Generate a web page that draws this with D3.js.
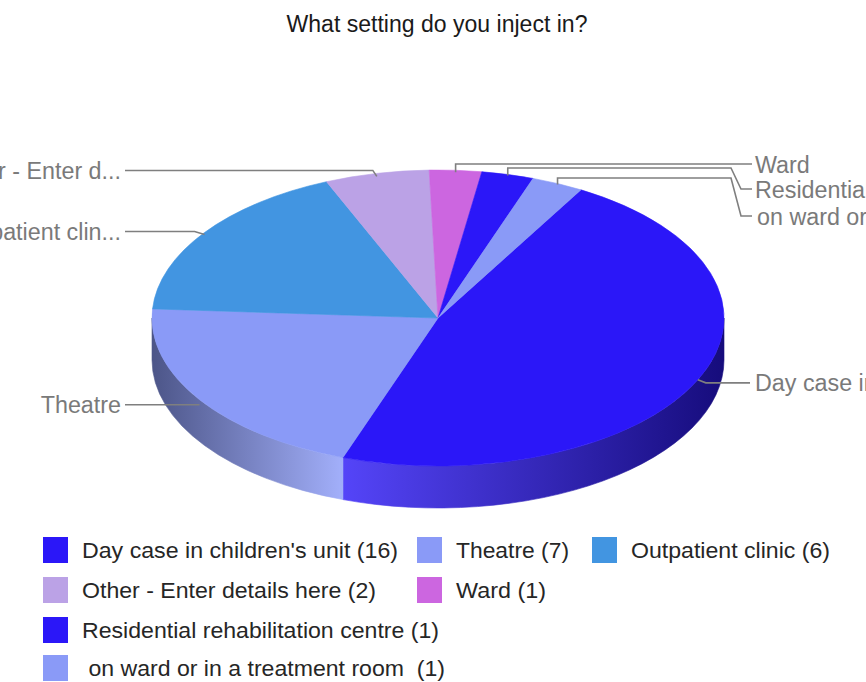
<!DOCTYPE html>
<html>
<head>
<meta charset="utf-8">
<script src="https://cdn.jsdelivr.net/npm/d3@7"></script>
<style>
  html, body { margin: 0; padding: 0; background: #fff; overflow: hidden; }
  svg { display: block; font-family: "Liberation Sans", Arial, sans-serif; }
  text { white-space: pre; }
</style>
</head>
<body>
<svg id="chart" width="866" height="682"></svg>
<script>
// Survey answers: "What setting do you inject in?"
const categories = [
  "Day case in children's unit",
  "Theatre",
  "Outpatient clinic",
  "Other - Enter details here",
  "Ward",
  "Residential rehabilitation centre",
  " on ward or in a treatment room "
];
const values = [16, 7, 6, 2, 1, 1, 1];
// Text shown beside each slice (long names are shortened)
const sliceLabels = [
  "Day case in children's unit",
  "Theatre",
  "Outpatient clin...",
  "Other - Enter d...",
  "Ward",
  "Residential rehabilitation centre",
  "on ward or in a treatment room"
];
const sliceColors = ["#2b17f8", "#8a9af7", "#4295e1", "#bba2e6", "#cc66e0", "#2b17f8", "#8a9af7"];
const title = "What setting do you inject in?";

const svg = d3.select("#chart");

// 3D pie geometry
const cx = 438, cy = 318, rx = 286, ry = 148, depth = 42;
const startDeg = 30;

const pie = d3.pie().sort(null).value(d => d)
  .startAngle(startDeg * Math.PI / 180)
  .endAngle(startDeg * Math.PI / 180 + 2 * Math.PI);
const arcs = pie(values).map((a, i) => ({ ...a, i }));

const pt = (a, dy = 0) => [cx + rx * Math.sin(a), cy - ry * Math.cos(a) + dy];

// side shading gradients
const defs = svg.append("defs");
const lightT = (340 - (cx - rx)) / (2 * rx);
sliceColors.forEach((c, i) => {
  const base = d3.rgb(c);
  const scale = k => d3.rgb(base.r * k, base.g * k, base.b * k).formatHex();
  const g = defs.append("linearGradient")
    .attr("id", "side" + i)
    .attr("gradientUnits", "userSpaceOnUse")
    .attr("x1", cx - rx).attr("x2", cx + rx).attr("y1", 0).attr("y2", 0);
  g.append("stop").attr("offset", 0).attr("stop-color", scale(0.55));
  g.append("stop").attr("offset", lightT).attr("stop-color", d3.interpolateRgb(c, "#fff")(0.2));
  g.append("stop").attr("offset", 1).attr("stop-color", scale(0.5));
});

// visible side walls (front half of the ellipse)
const sides = svg.append("g");
arcs.forEach(a => {
  const s = Math.max(a.startAngle, Math.PI / 2);
  const e = Math.min(a.endAngle, 3 * Math.PI / 2);
  if (s >= e) return;
  const large = (e - s) > Math.PI ? 1 : 0;
  const p0 = pt(s), p1 = pt(e), q1 = pt(e, depth), q0 = pt(s, depth);
  const d = `M${p0}A${rx},${ry} 0 ${large} 1 ${p1}L${q1}A${rx},${ry} 0 ${large} 0 ${q0}Z`;
  sides.append("path").attr("d", d)
    .attr("fill", `url(#side${a.i})`)
    .attr("stroke", `url(#side${a.i})`).attr("stroke-width", 0.6);
});

// top faces
const tops = svg.append("g");
arcs.forEach(a => {
  const large = (a.endAngle - a.startAngle) > Math.PI ? 1 : 0;
  const p0 = pt(a.startAngle), p1 = pt(a.endAngle);
  const d = `M${cx},${cy}L${p0}A${rx},${ry} 0 ${large} 1 ${p1}Z`;
  tops.append("path").attr("d", d)
    .attr("fill", sliceColors[a.i])
    .attr("stroke", sliceColors[a.i]).attr("stroke-width", 0.6);
});

// leader lines and slice labels
const labelColor = "#7a7a7a";
const lines = svg.append("g").attr("fill", "none").attr("stroke", "#7f7f7f").attr("stroke-width", 1.6);
const labels = svg.append("g").attr("fill", labelColor).attr("font-size", 23.3);
const mid = a => (a.startAngle + a.endAngle) / 2;

arcs.forEach(a => {
  const [ax, ay] = pt(mid(a));
  let path, lx, ly, anchor;
  switch (a.i) {
    case 0: // right, on the side wall
      path = [[ax, ay], [ax + 8, ay + 3], [750, ay + 3]];
      lx = 755; ly = ay + 3; anchor = "start"; break;
    case 1:
      path = [[125, ay + 5], [ax, ay + 5]];
      lx = 121; ly = ay + 5; anchor = "end"; break;
    case 2:
      path = [[125, ay - 1], [ax - 10, ay - 1], [ax, ay + 2]];
      lx = 121; ly = ay - 1; anchor = "end"; break;
    case 3:
      path = [[125, ay - 3], [ax - 4, ay - 3], [ax, ay + 3]];
      lx = 121; ly = ay - 3; anchor = "end"; break;
    case 4:
      path = [[ax, ay + 2], [ax, 164], [752, 164]];
      lx = 755; ly = 165; anchor = "start"; break;
    case 5:
      path = [[ax, ay + 1], [ax, 168], [731, 168], [741, 189], [752, 189]];
      lx = 755; ly = 190; anchor = "start"; break;
    case 6:
      path = [[ax, ay + 1], [ax, 178], [731, 178], [741, 216], [752, 216]];
      lx = 757; ly = 217; anchor = "start"; break;
  }
  lines.append("path").attr("d", d3.line()(path));
  labels.append("text")
    .attr("x", lx).attr("y", ly).attr("dy", "0.35em")
    .attr("text-anchor", anchor)
    .text(sliceLabels[a.i]);
});

// title
svg.append("text")
  .attr("x", 437).attr("y", 32)
  .attr("text-anchor", "middle")
  .attr("font-size", 23)
  .attr("fill", "#1a1a1a")
  .attr("textLength", 301).attr("lengthAdjust", "spacingAndGlyphs")
  .text(title);

// legend
const legendPos = [
  { x: 43, y: 550, w: 316 },
  { x: 417, y: 550, w: 113 },
  { x: 592, y: 550, w: 199 },
  { x: 43, y: 590, w: 294 },
  { x: 417, y: 590, w: 90 },
  { x: 43, y: 630, w: 357 },
  { x: 43, y: 668, w: 363 }
];
const legend = svg.append("g");
categories.forEach((c, i) => {
  const p = legendPos[i];
  legend.append("rect")
    .attr("x", p.x).attr("y", p.y - 13).attr("width", 25).attr("height", 26)
    .attr("fill", sliceColors[i]);
  legend.append("text")
    .attr("x", p.x + 39).attr("y", p.y).attr("dy", "0.35em")
    .attr("font-size", 22).attr("fill", "#262626")
    .attr("textLength", p.w).attr("lengthAdjust", "spacingAndGlyphs")
    .text(`${c} (${values[i]})`);
});
</script>
</body>
</html>
